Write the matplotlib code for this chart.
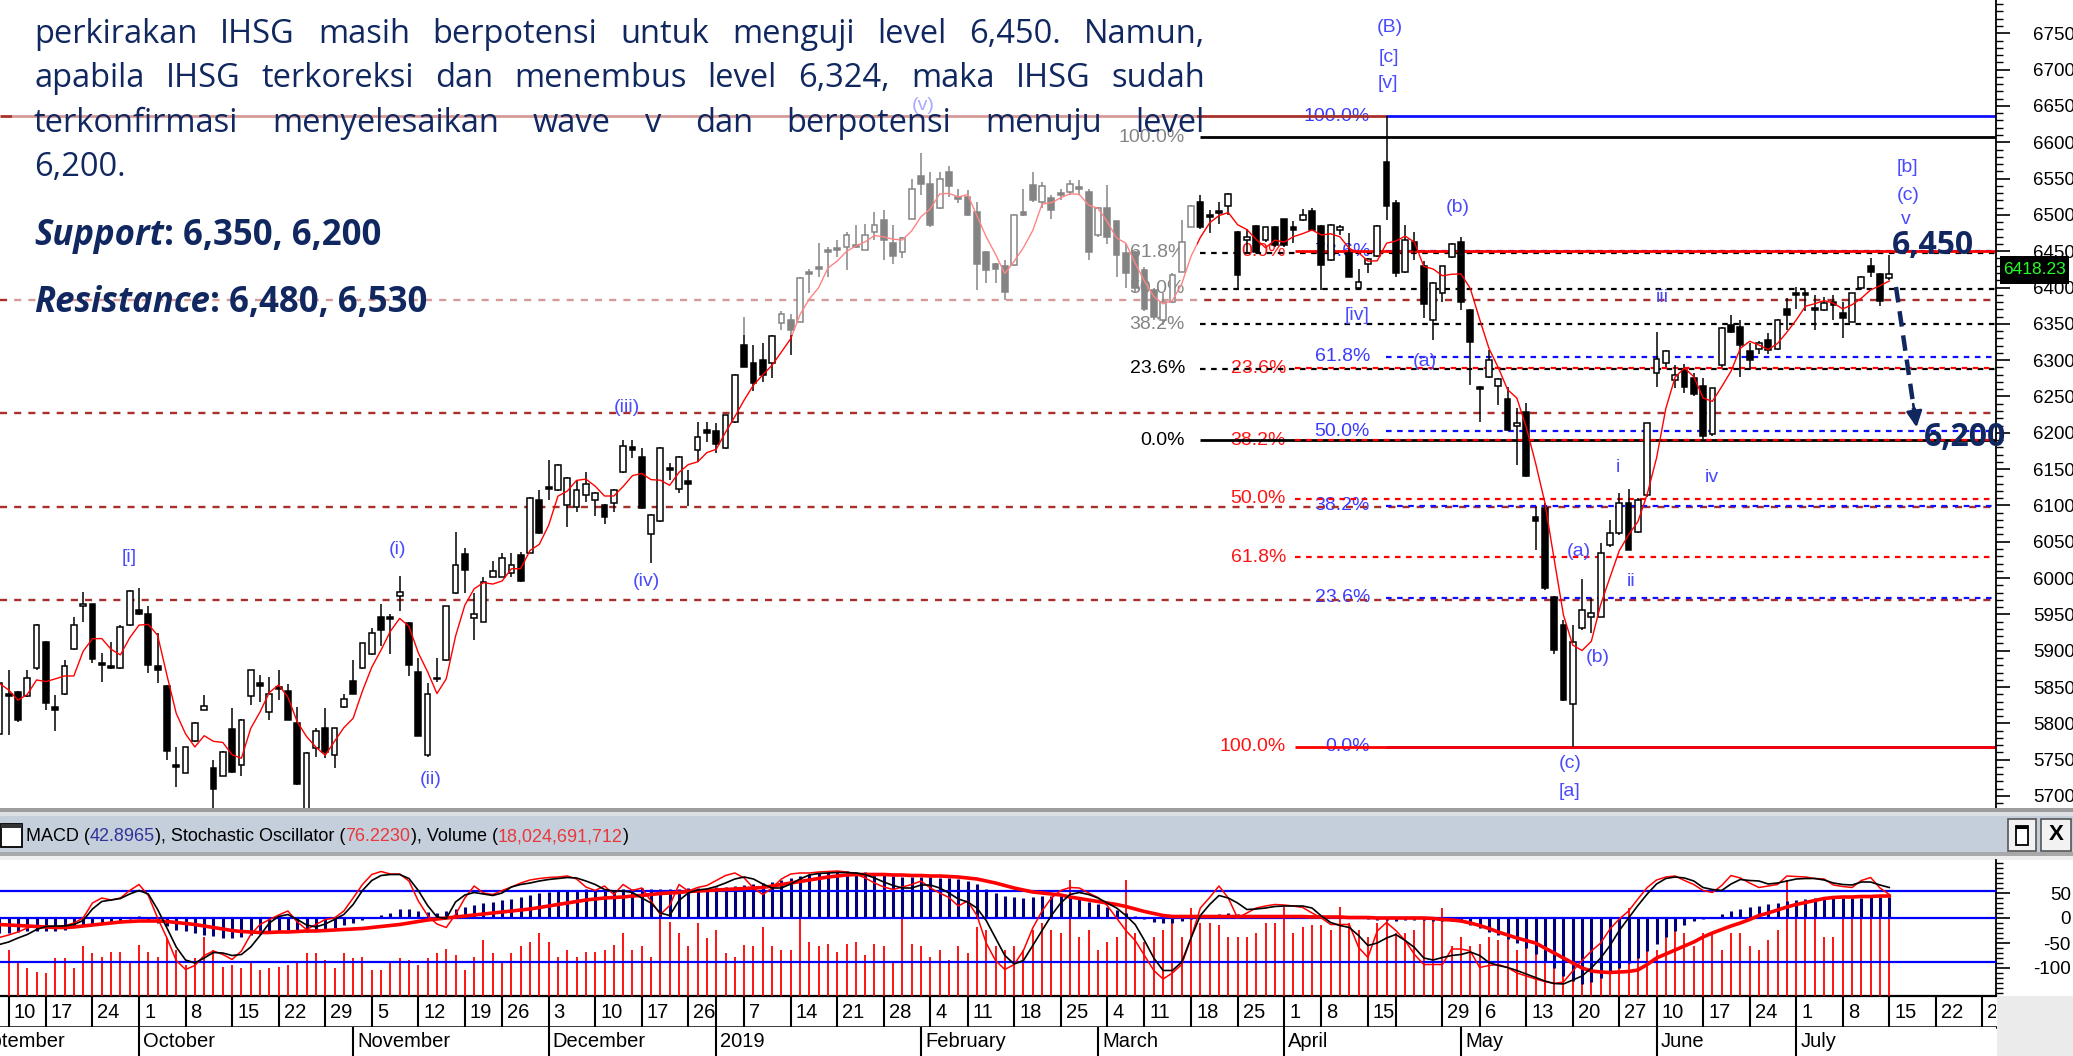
import numpy as np
import pandas as pd
import matplotlib
matplotlib.use("Agg")
import matplotlib.pyplot as plt
import matplotlib.transforms as mtransforms
from matplotlib.patches import Rectangle
from matplotlib.ticker import MultipleLocator, FixedLocator

# ---------------- data (IHSG daily, 7 Sep 2018 - 15 Jul 2019) ----------------
opens = [
    5786, 5841, 5843, 5837, 5876, 5912, 5822, 5840, 5902, 5961,
    5964, 5883, 5879, 5876, 5935, 5956, 5951, 5879, 5851, 5743,
    5732, 5776, 5819, 5738, 5727, 5792, 5743, 5838, 5855, 5815,
    5850, 5844, 5800, 5681, 5766, 5794, 5756, 5822, 5858, 5876,
    5895, 5946, 5947, 5975, 5938, 5871, 5756, 5863, 5887, 5979,
    6033, 5945, 5940, 6002, 6002, 6007, 6032, 6035, 6107, 6125,
    6121, 6101, 6098, 6114, 6107, 6101, 6103, 6146, 6181, 6167,
    6061, 6078, 6151, 6122, 6133, 6176, 6204, 6202, 6179, 6215,
    6321, 6296, 6300, 6296, 6351, 6355, 6353, 6422, 6428, 6452,
    6454, 6456, 6459, 6452, 6477, 6493, 6461, 6449, 6495, 6553,
    6543, 6509, 6559, 6525, 6525, 6504, 6449, 6433, 6429, 6431,
    6504, 6541, 6518, 6523, 6530, 6532, 6539, 6532, 6472, 6510,
    6491, 6447, 6449, 6424, 6397, 6355, 6380, 6422, 6484, 6518,
    6500, 6506, 6512, 6477, 6465, 6485, 6465, 6484, 6494, 6483,
    6493, 6506, 6485, 6438, 6479, 6448, 6399, 6432, 6443, 6573,
    6516, 6422, 6463, 6429, 6355, 6392, 6442, 6462, 6369, 6263,
    6277, 6264, 6246, 6209, 6229, 6084, 6096, 5974, 5935, 5827,
    5931, 5947, 5947, 6045, 6062, 6103, 6064, 6114, 6282, 6296,
    6273, 6287, 6275, 6264, 6199, 6293, 6348, 6346, 6312, 6316,
    6328, 6316, 6371, 6393, 6393, 6372, 6369, 6380, 6365, 6353,
    6399, 6429, 6419, 6413,
]
highs = [
    5857, 5873, 5845, 5873, 5937, 5914, 5839, 5887, 5946, 5981,
    5965, 5897, 5912, 5935, 5983, 5987, 5961, 5924, 5853, 5768,
    5768, 5802, 5839, 5750, 5762, 5821, 5806, 5874, 5867, 5864,
    5873, 5854, 5823, 5760, 5793, 5821, 5794, 5841, 5887, 5911,
    5931, 5965, 5951, 6003, 5939, 5890, 5856, 5890, 5962, 6064,
    6041, 5979, 6002, 6023, 6034, 6034, 6036, 6111, 6121, 6163,
    6157, 6139, 6135, 6146, 6118, 6102, 6122, 6190, 6190, 6179,
    6088, 6180, 6158, 6168, 6149, 6215, 6215, 6213, 6225, 6281,
    6360, 6321, 6323, 6334, 6367, 6364, 6414, 6426, 6461, 6456,
    6465, 6477, 6486, 6488, 6504, 6507, 6486, 6470, 6550, 6585,
    6559, 6559, 6567, 6536, 6534, 6518, 6450, 6434, 6438, 6501,
    6536, 6559, 6545, 6528, 6535, 6548, 6548, 6535, 6511, 6541,
    6492, 6460, 6450, 6428, 6400, 6392, 6420, 6493, 6514, 6527,
    6507, 6518, 6530, 6478, 6481, 6486, 6484, 6485, 6495, 6491,
    6508, 6510, 6486, 6487, 6486, 6475, 6426, 6440, 6486, 6636,
    6521, 6486, 6477, 6436, 6407, 6430, 6461, 6470, 6370, 6265,
    6314, 6275, 6263, 6234, 6241, 6098, 6103, 5975, 5942, 5935,
    5999, 5972, 6048, 6080, 6117, 6123, 6110, 6214, 6339, 6314,
    6293, 6295, 6283, 6275, 6262, 6345, 6362, 6355, 6323, 6326,
    6337, 6356, 6385, 6401, 6397, 6390, 6387, 6390, 6380, 6393,
    6416, 6440, 6420, 6445,
]
lows = [
    5775, 5784, 5802, 5836, 5873, 5818, 5789, 5839, 5901, 5939,
    5883, 5857, 5875, 5875, 5934, 5949, 5869, 5855, 5750, 5713,
    5731, 5775, 5818, 5684, 5727, 5731, 5727, 5825, 5830, 5805,
    5832, 5804, 5715, 5665, 5754, 5752, 5738, 5821, 5840, 5875,
    5894, 5906, 5895, 5955, 5865, 5782, 5754, 5857, 5886, 5978,
    5979, 5915, 5939, 6001, 6001, 6002, 5995, 6034, 6061, 6107,
    6120, 6071, 6091, 6105, 6085, 6075, 6091, 6145, 6165, 6095,
    6021, 6077, 6135, 6117, 6099, 6160, 6188, 6172, 6178, 6214,
    6290, 6257, 6270, 6275, 6341, 6307, 6352, 6392, 6415, 6415,
    6442, 6424, 6455, 6451, 6465, 6438, 6433, 6440, 6494, 6527,
    6484, 6508, 6525, 6516, 6499, 6396, 6406, 6406, 6383, 6430,
    6499, 6518, 6510, 6495, 6520, 6528, 6528, 6438, 6470, 6460,
    6415, 6400, 6392, 6367, 6355, 6348, 6379, 6421, 6483, 6481,
    6475, 6488, 6500, 6397, 6449, 6448, 6463, 6456, 6456, 6461,
    6492, 6478, 6397, 6436, 6472, 6414, 6397, 6420, 6442, 6493,
    6415, 6420, 6438, 6358, 6328, 6380, 6440, 6369, 6266, 6215,
    6275, 6238, 6203, 6156, 6139, 6039, 5984, 5896, 5831, 5768,
    5928, 5924, 5946, 6043, 6059, 6038, 6062, 6112, 6263, 6291,
    6261, 6255, 6250, 6192, 6196, 6291, 6337, 6277, 6287, 6309,
    6309, 6314, 6342, 6371, 6367, 6342, 6367, 6355, 6330, 6352,
    6397, 6415, 6374, 6410,
]
closes = [
    5855, 5837, 5804, 5863, 5935, 5828, 5819, 5879, 5935, 5964,
    5888, 5880, 5876, 5933, 5982, 5950, 5880, 5873, 5762, 5740,
    5767, 5801, 5824, 5709, 5761, 5733, 5805, 5873, 5852, 5840,
    5847, 5805, 5716, 5759, 5789, 5760, 5793, 5834, 5841, 5910,
    5924, 5929, 5944, 5981, 5880, 5783, 5840, 5861, 5961, 6018,
    6011, 5951, 5995, 6010, 6028, 6018, 5996, 6110, 6062, 6123,
    6156, 6138, 6121, 6130, 6117, 6084, 6121, 6182, 6177, 6096,
    6087, 6179, 6149, 6167, 6130, 6194, 6200, 6185, 6224, 6280,
    6291, 6268, 6280, 6333, 6364, 6341, 6413, 6419, 6426, 6449,
    6452, 6472, 6456, 6472, 6486, 6465, 6443, 6468, 6536, 6543,
    6486, 6550, 6540, 6522, 6500, 6433, 6424, 6426, 6394, 6500,
    6500, 6520, 6540, 6507, 6527, 6543, 6535, 6449, 6509, 6470,
    6445, 6420, 6399, 6371, 6360, 6380, 6417, 6463, 6512, 6484,
    6497, 6503, 6529, 6417, 6470, 6449, 6483, 6459, 6459, 6479,
    6500, 6479, 6431, 6486, 6483, 6415, 6408, 6439, 6485, 6512,
    6420, 6466, 6452, 6378, 6406, 6429, 6460, 6380, 6325, 6260,
    6300, 6274, 6204, 6213, 6140, 6078, 5986, 5901, 5832, 5912,
    5956, 5952, 6034, 6062, 6103, 6039, 6107, 6213, 6302, 6312,
    6280, 6263, 6254, 6195, 6261, 6344, 6339, 6321, 6300, 6323,
    6314, 6355, 6362, 6390, 6390, 6369, 6379, 6376, 6358, 6392,
    6415, 6422, 6381, 6418.23,
]
# volume, billion shares
volume_bn = [
    8.1, 9.5, 6.7, 5.7, 5.0, 4.7, 7.8, 7.8, 5.7, 10.2,
    8.8, 8.1, 9.1, 9.1, 6.7, 10.5, 9.1, 8.1, 11.9, 9.5,
    6.4, 7.8, 12.2, 9.5, 6.0, 6.4, 5.7, 6.7, 5.4, 5.7,
    6.0, 6.4, 6.7, 8.8, 8.8, 7.4, 5.7, 8.8, 7.8, 8.1,
    5.4, 5.4, 7.1, 7.8, 7.4, 6.4, 7.8, 8.8, 9.6, 8.4,
    5.4, 8.1, 11.5, 8.8, 7.1, 8.8, 10.2, 11.2, 12.9, 11.2,
    8.1, 9.5, 8.1, 9.1, 9.1, 9.5, 10.5, 12.9, 9.5, 10.2,
    8.1, 16.3, 15.3, 12.9, 10.2, 15.0, 11.9, 13.6, 8.8, 8.1,
    10.5, 10.2, 14.3, 10.2, 9.5, 9.5, 16.7, 11.2, 10.2, 10.8,
    9.1, 10.8, 11.2, 8.4, 10.8, 10.2, 6.7, 16.3, 10.8, 10.2,
    8.1, 9.5, 7.4, 10.2, 8.8, 14.3, 13.6, 10.2, 9.5, 10.2,
    9.5, 13.6, 15.0, 13.6, 12.9, 23.9, 12.2, 13.6, 9.5, 11.2,
    12.2, 23.9, 12.9, 11.2, 12.2, 13.6, 15.7, 12.2, 18.1, 15.0,
    15.0, 14.6, 12.2, 12.2, 12.2, 12.9, 15.0, 15.0, 18.4, 12.9,
    14.3, 14.6, 14.6, 13.6, 18.4, 15.0, 13.6, 12.2, 15.0, 16.3,
    12.9, 12.9, 13.6, 16.3, 16.3, 18.1, 10.2, 12.2, 10.2, 10.8,
    12.2, 11.5, 12.2, 9.5, 11.5, 11.5, 12.9, 12.2, 12.2, 8.1,
    9.5, 10.2, 10.2, 11.5, 12.2, 18.1, 13.6, 13.6, 9.5, 15.0,
    13.6, 12.9, 10.2, 12.9, 12.9, 9.5, 12.9, 12.9, 10.2, 9.5,
    11.5, 13.6, 23.9, 18.4, 17.7, 17.7, 12.2, 12.2, 18.4, 17.7,
    17.7, 18.7, 17.7, 18.0,
]
macd = [
    -29, -29, -28, -26, -25, -25, -26, -23, -18, -14,
    -12, -10, -8, -5, -1, 4, -3, -10, -16, -23,
    -26, -29, -33, -36, -39, -39, -37, -34, -31, -29,
    -26, -23, -25, -27, -26, -23, -19, -14, -9, -3,
    1, 6, 11, 18, 19, 15, 12, 11, 14, 19,
    23, 26, 30, 33, 36, 39, 42, 46, 50, 53,
    55, 56, 57, 58, 57, 57, 57, 58, 59, 60,
    59, 59, 59, 59, 60, 61, 61, 62, 63, 65,
    67, 68, 70, 73, 77, 81, 85, 88, 91, 93,
    94, 94, 93, 92, 90, 87, 85, 83, 82, 82,
    82, 81, 80, 78, 75, 69, 59, 51, 45, 42,
    41, 42, 44, 45, 45, 42, 38, 33, 28, 22,
    16, 10, 4, -2, -7, -10, -10, -6, -1, 4,
    7, 9, 10, 8, 6, 5, 5, 5, 5, 5,
    6, 6, 4, 3, 2, 1, 0, -1, -3, -4,
    -5, -4, -3, -4, -5, -6, -6, -8, -13, -20,
    -28, -34, -42, -50, -60, -72, -85, -100, -115, -125,
    -132, -128, -120, -110, -100, -90, -80, -66, -52, -38,
    -26, -14, -6, -2, 3, 8, 14, 18, 22, 25,
    28, 31, 34, 37, 39, 40, 41, 41, 41, 41,
    41, 42, 42, 43,
]
macd_signal = [
    -13, -14, -15, -16, -17, -18, -19, -19, -18, -16,
    -14, -12, -10, -8, -7, -6, -6, -6, -7, -9,
    -11, -13, -16, -19, -22, -25, -27, -28, -29, -29,
    -28, -28, -27, -26, -26, -25, -24, -23, -22, -21,
    -19, -17, -15, -13, -10, -7, -4, -2, 0, 2,
    4, 6, 8, 10, 12, 14, 16, 18, 21, 24,
    27, 30, 33, 36, 38, 40, 41, 42, 44, 45,
    47, 49, 50, 51, 53, 54, 55, 56, 57, 58,
    59, 60, 61, 64, 67, 70, 73, 76, 79, 82,
    84, 86, 87, 87, 87, 87, 86, 86, 85, 85,
    84, 84, 83, 82, 80, 78, 74, 70, 65, 60,
    56, 52, 50, 48, 46, 42, 39, 36, 33, 30,
    27, 23, 18, 13, 9, 5, 3, 3, 3, 3,
    3, 3, 3, 3, 3, 3, 3, 3, 3, 3,
    3, 2, 2, 2, 2, 1, 1, 1, 0, 0,
    0, 0, 0, 0, -1, -3, -4, -6, -10, -15,
    -21, -28, -34, -40, -45, -50, -60, -70, -80, -90,
    -100, -106, -108, -109, -108, -107, -104, -93, -80, -72,
    -64, -56, -48, -38, -30, -23, -16, -10, -3, 5,
    10, 16, 22, 27, 31, 35, 39, 41, 42, 42,
    43, 43, 44, 44,
]
stoch_k = [
    -39, -34, -28, -20, -15, -16, -19, -16, -10, 0,
    30, 40, 36, 40, 55, 67, 45, 0, -40, -85,
    -103, -95, -75, -66, -73, -83, -66, -33, -13, -3,
    6, 14, -8, -23, -13, -3, 0, 14, 40, 67,
    87, 93, 88, 88, 74, 34, 5, -12, -19, 7,
    40, 64, 50, 47, 55, 62, 70, 76, 79, 81,
    82, 84, 78, 62, 55, 64, 47, 67, 55, 60,
    34, 7, 25, 67, 54, 61, 65, 75, 85, 90,
    80, 60, 47, 60, 78, 88, 90, 90, 92, 93,
    94, 92, 88, 80, 70, 62, 57, 62, 67, 74,
    60, 50, 41, 24, 34, 5, -50, -85, -103, -93,
    -65, -20, 14, 40, 55, 61, 60, 50, 41, 25,
    0, -25, -45, -75, -105, -122, -110, -93, -40, 20,
    41, 64, 40, 0, 10, 20, 24, 27, 26, 24,
    21, 10, 0, -13, -13, -13, -59, -79, -26, -9,
    -25, -45, -73, -93, -93, -93, -62, -62, -66, -99,
    -95, -93, -99, -110, -116, -122, -127, -131, -128, -106,
    -85, -66, -50, -22, -2, 14, 38, 61, 76, 82,
    84, 75, 67, 55, 51, 65, 85, 80, 70, 61,
    64, 67, 84, 83, 82, 79, 78, 66, 63, 61,
    75, 81, 60, 47,
]
stoch_d = [
    -53, -48, -40, -33, -23, -17, -16, -16, -13, -5,
    18, 33, 36, 39, 48, 55, 48, 17, -20, -58,
    -84, -90, -80, -69, -70, -75, -73, -58, -35, -10,
    3, 7, -3, -14, -18, -12, -3, 7, 27, 55,
    75, 85, 87, 87, 79, 55, 25, 2, -1, 32,
    46, 51, 48, 45, 50, 62, 67, 70, 74, 77,
    79, 81, 80, 74, 67, 57, 54, 54, 51, 40,
    30, 10, 5, 35, 50, 56, 58, 63, 70, 78,
    82, 78, 68, 60, 60, 68, 78, 86, 89, 90,
    91, 91, 90, 87, 80, 72, 65, 60, 60, 66,
    66, 60, 50, 38, 32, 20, -5, -40, -75, -92,
    -85, -55, -25, 5, 30, 47, 51, 47, 40, 30,
    20, 5, -13, -45, -80, -105, -105, -88, -40, 5,
    27, 45, 40, 30, 17, 18, 20, 23, 24, 24,
    24, 20, 4, -9, -15, -19, -35, -55, -50, -40,
    -33, -45, -59, -80, -84, -79, -75, -73, -68, -75,
    -89, -95, -99, -105, -112, -119, -126, -131, -132, -124,
    -116, -100, -80, -55, -25, 0, 25, 48, 68, 79,
    82, 80, 74, 61, 57, 55, 68, 77, 75, 74,
    68, 70, 74, 78, 79, 79, 76, 70, 67, 66,
    72, 72, 66, 61,
]

first_day = '2018-09-07'
holidays = ['2018-09-11', '2018-11-20', '2018-12-24', '2018-12-25', '2018-12-31',
            '2019-01-01', '2019-02-05', '2019-03-07', '2019-04-03', '2019-04-17',
            '2019-04-19', '2019-05-01', '2019-05-30', '2019-06-03', '2019-06-04',
            '2019-06-05', '2019-06-06', '2019-06-07']
week_ticks = ['2018-09-10', '2018-09-17', '2018-09-24', '2018-10-01', '2018-10-08',
              '2018-10-15', '2018-10-22', '2018-10-29', '2018-11-05', '2018-11-12',
              '2018-11-19', '2018-11-26', '2018-12-03', '2018-12-10', '2018-12-17',
              '2018-12-26', '2019-01-02', '2019-01-07', '2019-01-14', '2019-01-21',
              '2019-01-28', '2019-02-04', '2019-02-11', '2019-02-18', '2019-02-25',
              '2019-03-04', '2019-03-11', '2019-03-18', '2019-03-25', '2019-04-01',
              '2019-04-08', '2019-04-15', '2019-04-22', '2019-04-29', '2019-05-06',
              '2019-05-13', '2019-05-20', '2019-05-27', '2019-06-10', '2019-06-17',
              '2019-06-24', '2019-07-01', '2019-07-08', '2019-07-15', '2019-07-22',
              '2019-07-29']
week_unlabelled = ['2019-01-02', '2019-04-22']
month_ticks = ['2018-09-03', '2018-10-01', '2018-11-01', '2018-12-03', '2019-01-02',
               '2019-02-01', '2019-03-01', '2019-04-01', '2019-05-02', '2019-06-10',
               '2019-07-01']
month_labels = ['September', 'October', 'November', 'December', '2019', 'February',
                'March', 'April', 'May', 'June', 'July']

# Fibonacci tools: (price at 0%, price at 100%, levels)
fib_black = (6190, 6607, [0.0, 23.6, 38.2, 50.0, 61.8, 100.0])
fib_red = (6450, 5768, [0.0, 23.6, 38.2, 50.0, 61.8, 100.0])
fib_blue = (5768, 6636, [0.0, 23.6, 38.2, 50.0, 61.8, 78.6, 100.0])
sr_levels = [6383, 6227, 6098, 5970]
peak_level = 6636
osc_levels = [55, 0, -88]

header_runs = [('MACD (', 'black'), ('42.8965', '#33339a'), ('), Stochastic Oscillator (', 'black'),
               ('76.2230', '#e8383d'), ('), Volume (', 'black'), ('18,024,691,712', '#e8383d'),
               (')', 'black')]
text_lines = [
    'perkirakan IHSG masih berpotensi untuk menguji level 6,450. Namun,',
    'apabila IHSG terkoreksi dan menembus level 6,324, maka IHSG sudah',
    'terkonfirmasi menyelesaikan wave v dan berpotensi menuju level',
]
last_line = '6,200.'
wave_labels = [('[i]', 129, 557), ('(i)', 397, 550), ('(ii)', 431, 780), ('(iii)', 627, 407),
               ('(iv)', 646, 582), ('(v)', 923, 105), ('(B)', 1390, 28), ('[c]', 1389, 57),
               ('[v]', 1388, 83), ('(b)', 1458, 207), ('[iv]', 1357, 315), ('(a)', 1425, 362),
               ('iii', 1662, 297), ('(a)', 1579, 552), ('(b)', 1598, 657), ('i', 1618, 468),
               ('ii', 1631, 582), ('iv', 1712, 477), ('(c)', 1570, 763), ('[a]', 1570, 792),
               ('[b]', 1907, 167), ('(c)', 1908, 195), ('v', 1906, 220)]

n = len(closes)
for name, arr in [('opens', opens), ('highs', highs), ('lows', lows), ('volume', volume_bn),
                  ('macd', macd), ('signal', macd_signal), ('k', stoch_k), ('d', stoch_d)]:
    if len(arr) != n:
        raise ValueError('%s has %d values, expected %d' % (name, len(arr), n))

# ---------------- layout ----------------
W, H = 2073, 1056
plt.rcParams['font.family'] = ['Liberation Sans', 'DejaVu Sans']
plt.rcParams['axes.unicode_minus'] = False
NAVY = '#102760'
WAVE = '#4a4aff'
BROWN = '#a8302c'

fig = plt.figure(figsize=(W / 100, H / 100), dpi=100)
fig.patch.set_facecolor('white')


def fx(px):
    return px / W


def fy(py):
    return 1 - py / H


def frect(x0, y0, x1, y1, **kw):
    r = Rectangle((fx(x0), fy(y1)), fx(x1) - fx(x0), fy(y0) - fy(y1),
                  transform=fig.transFigure, **kw)
    fig.add_artist(r)
    return r


# trading calendar -> x positions
days = pd.bdate_range('2018-09-03', '2019-07-31')
days = days[~days.isin(pd.to_datetime(holidays))]
pos = {d.strftime('%Y-%m-%d'): i for i, d in enumerate(days)}
xs = np.arange(pos[first_day], pos[first_day] + n)
oct1 = pos['2018-10-01']
PX_DAY = 9.31


def X(px):
    return oct1 + (px - 139) / PX_DAY


def P(py):
    return 5700 + (796 - py) / 0.7264


def V(py):
    return (918 - py) / 0.5


AXR = 1996
xlim = (X(0), X(AXR))

ax = fig.add_axes([0, fy(808), fx(AXR), 808 / H])
ax_ind = fig.add_axes([0, fy(996), fx(AXR), (996 - 860) / H])
ax_day = fig.add_axes([0, fy(1027), fx(AXR), 31 / H])
ax_mon = fig.add_axes([0, 0, fx(AXR), 29 / H])

# ---------------- price panel ----------------
ax.set_xlim(*xlim)
ax.set_ylim(P(808), P(0))
for s in ['left', 'top', 'bottom']:
    ax.spines[s].set_visible(False)
ax.spines['right'].set_linewidth(1.3)
ax.set_xticks([])
ax.yaxis.tick_right()
ax.yaxis.set_major_locator(MultipleLocator(50))
ax.yaxis.set_minor_locator(MultipleLocator(10))
ax.tick_params(axis='y', which='major', direction='out', length=10, width=1.2, pad=17, labelsize=13.5)
ax.tick_params(axis='y', which='minor', direction='out', length=5, width=1)

o, h, l, c = (np.array(a, dtype=float) for a in (opens, highs, lows, closes))
up = c >= o
ax.vlines(xs, l, h, color='black', lw=1.1, zorder=3)
body_lo = np.minimum(o, c)
body_h = np.maximum(np.abs(c - o), 1.6)
ax.bar(xs[up], body_h[up], bottom=body_lo[up], width=0.62, color='white',
       edgecolor='black', lw=1.1, zorder=4)
ax.bar(xs[~up], body_h[~up], bottom=body_lo[~up], width=0.62, color='black',
       edgecolor='black', lw=1.1, zorder=4)
ma = pd.Series(c).rolling(4, min_periods=1).mean()
ax.plot(xs, ma, color='#ff0000', lw=1.0, zorder=5)

# horizontal support / resistance lines
ax.hlines(sr_levels, xlim[0], xlim[1], colors=BROWN, lw=1.7, linestyles=(0, (3, 3)), zorder=2)
peak_x = xs[int(np.argmax(h))]
ax.hlines(peak_level, xlim[0], peak_x, colors=BROWN, lw=2.0, zorder=2)

# fibonacci tools (red drawn last so its solid levels sit on top)
fibs = [(fib_black, '#000000', '#000000', 1185, 1200, 2.2),
        (fib_blue, '#1010ff', '#3b3bff', 1370, 1386, 2.3),
        (fib_red, '#ff0000', '#ff1414', 1286, 1295, 2.4)]
for (p0, p100, levels), lc, tc, lab_px, start_px, zo in fibs:
    for pct in levels:
        price = p0 + (p100 - p0) * pct / 100.0
        solid = pct in (0.0, 100.0)
        ax.hlines(price, X(start_px), xlim[1], colors=lc, lw=2.0 if solid else 1.6,
                  linestyles='solid' if solid else (0, (2.5, 2.5)), zorder=zo)
        ax.text(X(lab_px), price, '%.1f%%' % pct, color=tc, ha='right', va='center',
                fontsize=14, zorder=1.5)

for txt, px, py in wave_labels:
    ax.text(X(px), P(py), txt, color=WAVE, ha='center', va='center', fontsize=14, zorder=6)

# projected move
a0 = (X(1896), P(287))
a1 = (X(1917), P(430))
ax.plot([a0[0], a1[0]], [a0[1], a1[1]], color=NAVY, lw=3.2, ls=(0, (3.5, 2)), zorder=8)
ax.annotate('', xy=a1, xytext=(a0[0] + (a1[0] - a0[0]) * 0.8, a0[1] + (a1[1] - a0[1]) * 0.8),
            arrowprops=dict(arrowstyle='-|>', color=NAVY, lw=2, mutation_scale=24), zorder=8)
ax.text(X(1933), P(245), '6,450', color=NAVY, fontsize=23, fontweight='bold',
        family=['Open Sans', 'DejaVu Sans'], ha='center', va='center', zorder=20, clip_on=False)
ax.text(X(1965), P(438), '6,200', color=NAVY, fontsize=23, fontweight='bold',
        family=['Open Sans', 'DejaVu Sans'], ha='center', va='center', zorder=20, clip_on=False)

# translucent text box behind the commentary
ax.add_patch(Rectangle((12 / AXR, 1 - 335 / 808), (1197 - 12) / AXR, 335 / 808,
                       transform=ax.transAxes, facecolor='white', alpha=0.52,
                       edgecolor='none', zorder=10))

# ---------------- oscillator panel ----------------
ax_vol = ax_ind.twinx()
ax_vol.vlines(xs, 0, volume_bn, color='#ff0000', lw=1.3)
ax_vol.set_ylim(0, 28)
ax_vol.set_xlim(*xlim)
ax_vol.axis('off')
ax_ind.set_zorder(ax_vol.get_zorder() + 1)
ax_ind.patch.set_visible(False)

ax_ind.set_xlim(*xlim)
ax_ind.set_ylim(V(996), V(860))
ax_ind.vlines(xs, 0, macd, color='#00007a', lw=2.2, zorder=2)
for lv in osc_levels:
    ax_ind.axhline(lv, color='#0000ff', lw=1.6, zorder=3)
ax_ind.plot(xs, macd_signal, color='#ff0000', lw=2.6, zorder=4)
ax_ind.plot(xs, stoch_k, color='#ff0000', lw=1.1, zorder=5)
ax_ind.plot(xs, stoch_d, color='black', lw=1.2, zorder=6)
for s in ['left', 'top', 'bottom']:
    ax_ind.spines[s].set_visible(False)
ax_ind.spines['right'].set_linewidth(1.3)
ax_ind.set_xticks([])
ax_ind.yaxis.tick_right()
ax_ind.yaxis.set_major_locator(FixedLocator([-100, -50, 0, 50]))
ax_ind.yaxis.set_minor_locator(MultipleLocator(10))
ax_ind.tick_params(axis='y', which='major', direction='out', length=10, width=1.2, pad=44, labelsize=13.5)
ax_ind.tick_params(axis='y', which='minor', direction='out', length=5, width=1)
for t in ax_ind.yaxis.get_major_ticks():
    t.label2.set_horizontalalignment('right')

# ---------------- date strip ----------------
off_day = mtransforms.offset_copy(ax_day.transData, fig=fig, x=5, y=0, units='dots')
off_mon = mtransforms.offset_copy(ax_mon.transData, fig=fig, x=4, y=0, units='dots')
for a in (ax_day, ax_mon):
    a.set_xlim(*xlim)
    a.set_ylim(0, 1)
    a.set_xticks([])
    a.set_yticks([])
    for s in ['left', 'right', 'top', 'bottom']:
        a.spines[s].set_visible(False)
ax_day.spines['top'].set_visible(True)
ax_day.spines['top'].set_linewidth(1.6)
ax_day.spines['bottom'].set_visible(True)
ax_day.spines['bottom'].set_linewidth(1.8)
wk_x = [pos[d] for d in week_ticks]
ax_day.vlines(wk_x, 0, 1, color='black', lw=1.5)
for d, xv in zip(week_ticks, wk_x):
    if d not in week_unlabelled:
        ax_day.text(xv, 0.47, str(int(d[-2:])), transform=off_day, ha='left', va='center',
                    fontsize=14.5, clip_on=True)
mo_x = [pos[d] for d in month_ticks]
ax_mon.vlines(mo_x, 0, 1, color='black', lw=1.5)
for lab, xv in zip(month_labels, mo_x):
    ax_mon.text(xv, 0.5, lab, transform=off_mon, ha='left', va='center', fontsize=14.5,
                clip_on=True)
frect(AXR + 1, 996, W, H, facecolor='#ebebeb', edgecolor='none')

# ---------------- panel header ----------------
frect(0, 808, W, 812, facecolor='#9c9c9c', edgecolor='none')
frect(0, 812, W, 816, facecolor='#dcdfe3', edgecolor='none')
frect(0, 816, W, 852, facecolor='#c4cfdb', edgecolor='none')
frect(0, 852, W, 856, facecolor='#a8a8a8', edgecolor='none')
frect(0, 856, W, 860, facecolor='#eeeeee', edgecolor='none')
frect(1, 824, 22, 847, facecolor='white', edgecolor='black', lw=1.3)
frect(1, 824, 22, 828, facecolor='#333333', edgecolor='none')
frect(2008, 819, 2036, 851, facecolor='#f2f2f2', edgecolor='#555555', lw=1.2)
frect(2041, 819, 2071, 851, facecolor='#f2f2f2', edgecolor='#555555', lw=1.2)
frect(2016, 826, 2028, 845, facecolor='white', edgecolor='black', lw=1.3)
frect(2016, 826, 2028, 829, facecolor='black', edgecolor='none')
fig.text(fx(2056), fy(835), 'X', ha='center', va='center', fontsize=16, fontweight='bold')

renderer = fig.canvas.get_renderer()


def place_runs(runs, x_left, base_y, **kw):
    x = x_left
    for s, extra in runs:
        t = fig.text(fx(x), fy(base_y), s, va='baseline', ha='left', **kw, **extra)
        x += t.get_window_extent(renderer).width


place_runs([(s, {'color': col}) for s, col in header_runs], 26, 841, fontsize=13)

# price tag
frect(2000, 256, 2069, 284, facecolor='black', edgecolor='none')
fig.text(fx(2034.5), fy(270), '6418.23', color='#22ff22', ha='center', va='center', fontsize=12.5)

# ---------------- commentary text ----------------
OPEN = ['Open Sans', 'DejaVu Sans']


def justify(line, x_left, x_right, base_y, **kw):
    words = line.split()
    ts = [fig.text(0, fy(base_y), w, va='baseline', ha='left', **kw) for w in words]
    ws = [t.get_window_extent(renderer).width for t in ts]
    gap = (x_right - x_left - sum(ws)) / (len(ts) - 1)
    x = x_left
    for t, wd in zip(ts, ws):
        t.set_x(fx(x))
        x += wd + gap


for i, line in enumerate(text_lines):
    justify(line, 34, 1205, 43 + 44.3 * i, fontsize=23.5, color=NAVY, family=OPEN)
fig.text(fx(34), fy(176), last_line, va='baseline', ha='left', fontsize=23.5, color=NAVY, family=OPEN)
place_runs([('Support', {'fontstyle': 'italic'}), (': 6,350, 6,200', {})], 34, 245,
           fontsize=25, fontweight='bold', color=NAVY, family=OPEN)
place_runs([('Resistance', {'fontstyle': 'italic'}), (': 6,480, 6,530', {})], 34, 312,
           fontsize=25, fontweight='bold', color=NAVY, family=OPEN)

fig.savefig('out.png', dpi=100, facecolor='white')
